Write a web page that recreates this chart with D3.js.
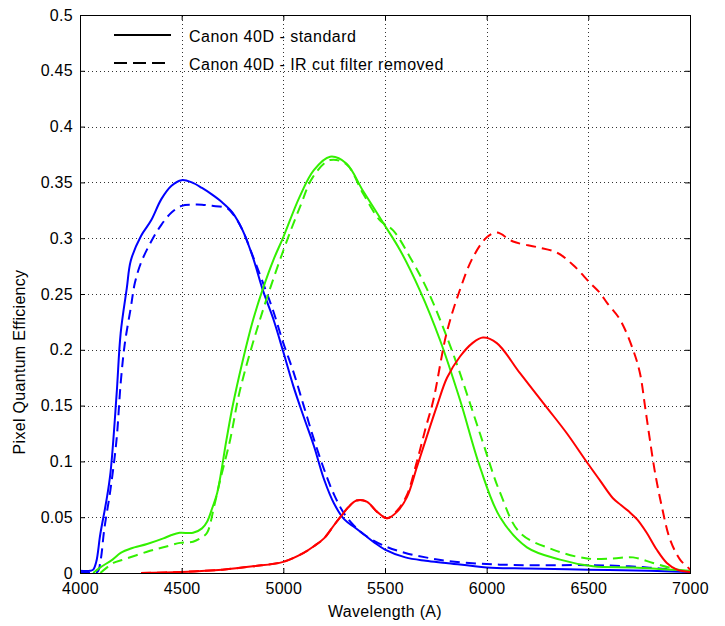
<!DOCTYPE html>
<html>
<head>
<meta charset="utf-8">
<script src="https://cdn.jsdelivr.net/npm/d3@7"></script>
<style>
  body { margin: 0; background: #fff; }
  text { font-family: 'Liberation Sans', Arial, sans-serif; }
</style>
</head>
<body>
<div id="viz"></div>
<script>
const width = 725;
const height = 626;
const margin = {top: 15, right: 35, bottom: 53, left: 80};

const xTicks = [4000, 4500, 5000, 5500, 6000, 6500, 7000];
const yTicks = [0, 0.05, 0.1, 0.15, 0.2, 0.25, 0.3, 0.35, 0.4, 0.45, 0.5];
const yTickLabels = ['0', '0.05', '0.1', '0.15', '0.2', '0.25', '0.3', '0.35', '0.4', '0.45', '0.5'];

const legendLabels = ['Canon 40D - standard', 'Canon 40D - IR cut filter removed'];

// [wavelength (A), quantum efficiency]
const blueStandard = [
  [4000, 0.002], [4050, 0.002], [4065, 0.003], [4080, 0.01], [4100, 0.035], [4130, 0.065],
  [4150, 0.09], [4180, 0.16], [4200, 0.215], [4230, 0.255], [4250, 0.28], [4300, 0.302],
  [4350, 0.316], [4400, 0.335], [4450, 0.347], [4500, 0.352], [4550, 0.350], [4600, 0.345],
  [4650, 0.339], [4700, 0.332], [4750, 0.323], [4800, 0.307], [4850, 0.283], [4900, 0.253],
  [4950, 0.228], [5000, 0.198], [5050, 0.167], [5100, 0.14], [5150, 0.114], [5200, 0.084],
  [5250, 0.062], [5300, 0.048], [5350, 0.041], [5400, 0.034], [5450, 0.027], [5500, 0.021],
  [5600, 0.014], [5700, 0.011], [5800, 0.009], [6000, 0.005], [6200, 0.004], [6500, 0.003],
  [6800, 0.002], [7000, 0.001]
];
const blueNoFilter = [
  [4000, 0.001], [4085, 0.001], [4100, 0.01], [4120, 0.04], [4150, 0.075], [4180, 0.12],
  [4200, 0.17], [4220, 0.205], [4250, 0.238], [4270, 0.26], [4300, 0.278], [4350, 0.297],
  [4400, 0.312], [4450, 0.323], [4500, 0.329], [4550, 0.330], [4600, 0.330], [4650, 0.329],
  [4700, 0.328], [4730, 0.326], [4770, 0.317], [4800, 0.307], [4850, 0.284], [4900, 0.26],
  [4950, 0.235], [5000, 0.206], [5050, 0.18], [5100, 0.15], [5150, 0.12], [5200, 0.093],
  [5250, 0.07], [5300, 0.053], [5350, 0.042], [5400, 0.034], [5500, 0.024], [5600, 0.018],
  [5700, 0.014], [5800, 0.011], [6000, 0.008], [6200, 0.007], [6500, 0.007], [6700, 0.006],
  [6850, 0.004], [7000, 0.001]
];
const greenStandard = [
  [4065, 0.0], [4100, 0.005], [4160, 0.012], [4200, 0.018], [4250, 0.022], [4330, 0.026],
  [4410, 0.031], [4450, 0.034], [4490, 0.036], [4556, 0.036], [4600, 0.04], [4625, 0.046],
  [4650, 0.058], [4675, 0.072], [4720, 0.119], [4750, 0.149], [4800, 0.19], [4850, 0.226],
  [4900, 0.255], [4950, 0.28], [5000, 0.301], [5080, 0.337], [5150, 0.361], [5230, 0.373],
  [5310, 0.367], [5390, 0.343], [5490, 0.314], [5575, 0.289], [5672, 0.253], [5770, 0.209],
  [5869, 0.155], [5967, 0.095], [6066, 0.05], [6198, 0.023], [6361, 0.012], [6523, 0.006],
  [6720, 0.005], [7000, 0.002]
];
const greenNoFilter = [
  [4100, 0.0], [4164, 0.009], [4213, 0.012], [4330, 0.019], [4410, 0.023], [4492, 0.027],
  [4556, 0.028], [4600, 0.032], [4625, 0.036], [4660, 0.06], [4689, 0.083], [4738, 0.119],
  [4787, 0.164], [4885, 0.227], [5000, 0.289], [5082, 0.328], [5146, 0.355], [5230, 0.37],
  [5311, 0.366], [5392, 0.34], [5475, 0.316], [5540, 0.307], [5623, 0.283], [5710, 0.253],
  [5834, 0.197], [5967, 0.125], [6066, 0.072], [6164, 0.036], [6326, 0.021], [6494, 0.013],
  [6621, 0.013], [6720, 0.014], [6818, 0.009], [6916, 0.004], [7000, 0.001]
];
const redStandard = [
  [4300, 0.0], [4500, 0.001], [4700, 0.003], [4850, 0.006], [5000, 0.01], [5100, 0.018],
  [5150, 0.024], [5200, 0.031], [5250, 0.043], [5280, 0.05], [5320, 0.059], [5360, 0.065],
  [5410, 0.064], [5460, 0.055], [5510, 0.049], [5560, 0.055], [5608, 0.068], [5657, 0.095],
  [5705, 0.122], [5756, 0.15], [5805, 0.175], [5869, 0.194], [5930, 0.206], [5982, 0.211],
  [6050, 0.206], [6164, 0.179], [6297, 0.148], [6395, 0.125], [6494, 0.099], [6557, 0.083],
  [6621, 0.067], [6660, 0.061], [6700, 0.055], [6740, 0.048], [6787, 0.036], [6836, 0.021],
  [6886, 0.009], [6936, 0.003], [7000, 0.001]
];
const redNoFilter = [
  [4300, 0.0], [4500, 0.001], [4700, 0.003], [4850, 0.006], [5000, 0.01], [5100, 0.018],
  [5150, 0.024], [5200, 0.031], [5250, 0.043], [5280, 0.05], [5320, 0.059], [5360, 0.065],
  [5410, 0.064], [5460, 0.055], [5510, 0.049], [5560, 0.056], [5608, 0.07], [5657, 0.1],
  [5700, 0.13], [5738, 0.155], [5803, 0.215], [5869, 0.254], [5933, 0.283], [6002, 0.301],
  [6051, 0.305], [6130, 0.297], [6248, 0.292], [6346, 0.287], [6425, 0.276], [6508, 0.26],
  [6557, 0.251], [6592, 0.242], [6656, 0.227], [6720, 0.2], [6754, 0.179], [6779, 0.149],
  [6803, 0.119], [6828, 0.09], [6862, 0.059], [6902, 0.03], [6951, 0.012], [6990, 0.005],
  [7000, 0.003]
];

const series = [
  {values: blueStandard, color: '#0000ff', dashed: false},
  {values: blueNoFilter, color: '#0000ff', dashed: true},
  {values: greenStandard, color: '#33f000', dashed: false},
  {values: greenNoFilter, color: '#33f000', dashed: true},
  {values: redStandard, color: '#ff0000', dashed: false},
  {values: redNoFilter, color: '#ff0000', dashed: true}
];

const svg = d3.select('#viz')
  .append('svg')
    .attr('width', width)
    .attr('height', height)
    .attr('viewBox', [0, 0, width, height]);

const xScale = d3.scaleLinear()
  .domain([4000, 7000])
  .range([margin.left, width - margin.right]);
const yScale = d3.scaleLinear()
  .domain([0, 0.5])
  .range([height - margin.bottom, margin.top]);

const x0 = margin.left, x1 = width - margin.right;
const y0 = height - margin.bottom, y1 = margin.top;

// Dotted grid
const grid = svg.append('g').attr('class', 'grid')
  .attr('stroke', '#333')
  .attr('stroke-width', 1)
  .attr('stroke-dasharray', '1,3');
grid.selectAll('.vgrid')
  .data(xTicks.slice(1, -1))
  .join('line')
    .attr('x1', d => Math.round(xScale(d)) + 0.5)
    .attr('x2', d => Math.round(xScale(d)) + 0.5)
    .attr('y1', y0)
    .attr('y2', y1);
grid.selectAll('.hgrid')
  .data(yTicks.slice(1, -1))
  .join('line')
    .attr('x1', x0)
    .attr('x2', x1)
    .attr('y1', d => Math.round(yScale(d)) + 0.5)
    .attr('y2', d => Math.round(yScale(d)) + 0.5);

// Curves
const line = d3.line()
  .x(d => xScale(d[0]))
  .y(d => yScale(d[1]))
  .curve(d3.curveCatmullRom);

svg.append('g')
    .attr('class', 'curves')
  .selectAll('path')
  .data(series)
  .join('path')
    .attr('d', d => line(d.values))
    .attr('fill', 'none')
    .attr('stroke', d => d.color)
    .attr('stroke-width', 2)
    .attr('stroke-linejoin', 'round')
    .attr('stroke-dasharray', d => d.dashed ? '10,6' : null);

// Axes with inward ticks
const styleAxis = g => {
  g.select('.domain').remove();
  g.selectAll('.tick line').attr('stroke', '#000');
  g.selectAll('.tick text')
    .attr('fill', '#000')
    .style('font-size', '16px')
    .style('letter-spacing', '0.3px')
    .style('font-family', "'Liberation Sans', Arial, sans-serif");
};

svg.append('g')
    .attr('transform', `translate(0,${y0})`)
    .call(d3.axisBottom(xScale).tickValues(xTicks).tickFormat(d3.format('d')).tickSize(-5).tickPadding(10))
    .call(styleAxis);
svg.append('g')
    .attr('transform', `translate(0,${y1})`)
    .call(d3.axisTop(xScale).tickValues(xTicks).tickFormat('').tickSize(-5))
    .call(styleAxis);
svg.append('g')
    .attr('transform', `translate(${x0},0)`)
    .call(d3.axisLeft(yScale).tickValues(yTicks).tickFormat((d, i) => yTickLabels[i]).tickSize(-5).tickPadding(7))
    .call(styleAxis);
svg.append('g')
    .attr('transform', `translate(${x1},0)`)
    .call(d3.axisRight(yScale).tickValues(yTicks).tickFormat('').tickSize(-5))
    .call(styleAxis);

// Box
svg.append('rect')
    .attr('x', x0 + 0.5)
    .attr('y', y1 + 0.5)
    .attr('width', x1 - x0)
    .attr('height', y0 - y1)
    .attr('fill', 'none')
    .attr('stroke', '#000')
    .attr('stroke-width', 1);

// Axis titles
svg.append('text')
    .attr('x', (x0 + x1) / 2)
    .attr('y', 617)
    .attr('text-anchor', 'middle')
    .style('font-size', '16px')
    .style('letter-spacing', '0.3px')
    .text('Wavelength (A)');
svg.append('text')
    .attr('transform', 'translate(25,362) rotate(-90)')
    .attr('text-anchor', 'middle')
    .style('font-size', '16px')
    .style('letter-spacing', '0.3px')
    .text('Pixel Quantum Efficiency');

// Legend
const legend = svg.append('g')
    .attr('class', 'legend')
    .attr('transform', 'translate(114, 35)');
legend.selectAll('line')
  .data(legendLabels)
  .join('line')
    .attr('x1', 0)
    .attr('x2', 57)
    .attr('y1', (d, i) => i * 28)
    .attr('y2', (d, i) => i * 28)
    .attr('stroke', '#000')
    .attr('stroke-width', 2)
    .attr('stroke-dasharray', (d, i) => i === 1 ? '13,6' : null);
legend.selectAll('text')
  .data(legendLabels)
  .join('text')
    .attr('x', 75)
    .attr('y', (d, i) => i * 28 + 7)
    .style('font-size', '16px')
    .style('letter-spacing', '0.5px')
    .text(d => d);
</script>
</body>
</html>
